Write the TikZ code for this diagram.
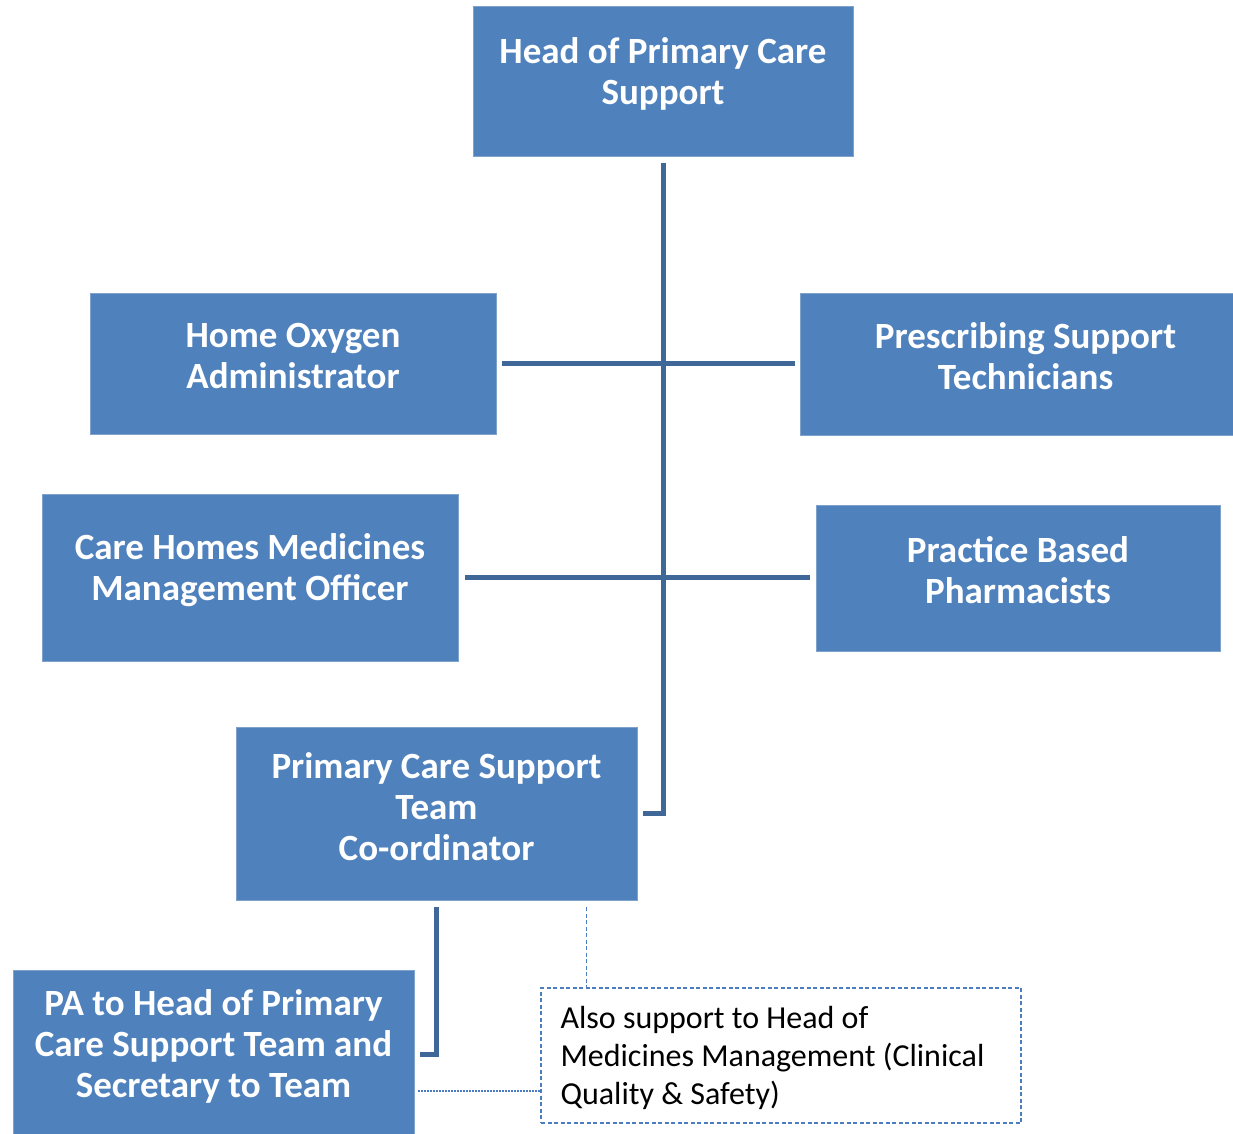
\documentclass[tikz,border=0pt]{standalone}
\usepackage{fontspec}
\setmainfont{Carlito}
\usetikzlibrary{calc}
\definecolor{boxblue}{HTML}{4F81BD}
\definecolor{boxedge}{HTML}{7FA2CD}
\definecolor{linkblue}{HTML}{3F6797}
\definecolor{noteblue}{HTML}{4A7EC0}
\begin{document}
\begin{tikzpicture}[x=1pt,y=-1pt,
  box/.style={draw=boxedge,line width=0.8pt,fill=boxblue,inner sep=0pt},
  btxt/.style={text=white,font=\fontsize{37}{41}\selectfont\bfseries,align=center,inner sep=0pt},
  link/.style={draw=linkblue,line width=5pt},
  note/.style={draw=noteblue,dashed,line width=1.3pt,dash pattern=on 4pt off 2.5pt,inner sep=0pt},
]
\useasboundingbox (0,0) rectangle (1233,1134);
% boxes
\node[box,minimum width=380,minimum height=150] (head) at (663,81) {};
\node[btxt] (headt) at ($(head)+(0,-7)$) {Head of Primary Care\\Support};
\node[box,minimum width=406,minimum height=141] (hox) at (293,363.5) {};
\node[btxt] (hoxt) at ($(hox)+(0,-7.5)$) {Home Oxygen\\Administrator};
\node[box,minimum width=433,minimum height=142] (pst) at (1016.5,364) {};
\node[btxt] (pstt) at ($(pst)+(9,-8)$) {Prescribing Support\\Technicians};
\node[box,minimum width=416,minimum height=167] (chm) at (250,577.5) {};
\node[btxt] (chmt) at ($(chm)+(0,-7.5)$) {Care Homes Medicines\\Management Officer};
\node[box,minimum width=404,minimum height=146] (pbp) at (1018,578) {};
\node[btxt] (pbpt) at ($(pbp)+(0,-8)$) {Practice Based\\Pharmacists};
\node[box,minimum width=401,minimum height=173] (pcs) at (436.5,813.5) {};
\node[btxt] (pcst) at ($(pcs)+(0,-7)$) {Primary Care Support\\Team\\Co-ordinator};
\node[box,minimum width=401,minimum height=170] (pa) at (213.5,1055) {};
\node[btxt] (pat) at ($(pa)+(0,-8.5)$) {PA to Head of Primary\\Care Support Team and\\Secretary to Team};
\node[note,minimum width=480,minimum height=135] (nt) at (781,1055.5) {};
\node[text=black,font=\fontsize{32}{38}\selectfont,align=left,anchor=west,inner sep=0pt] (ntt) at ($(nt.west)+(20,2)$) {Also support to Head of\\Medicines Management (Clinical\\Quality \& Safety)};
% connectors
\coordinate (tTop) at ($(head.south)+(0,7)$);
\coordinate (tBot) at (head.south |- pcs.east);
\draw[link] (tTop) -- ($(tBot)+(0,2.5)$);
\draw[link] ($(tBot)+(2.5,0)$) -- ($(pcs.east)+(6,0)$);
\draw[link] ($(hox.east)+(6,0)$) -- ($(pst.west |- hox.east)+(-5,0)$);
\draw[link] ($(chm.east)+(7,0)$) -- ($(pbp.west |- chm.east)+(-6,0)$);
\coordinate (pTop) at ($(pcs.south)+(0,7)$);
\coordinate (pBot) at (pcs.south |- 0,1054);
\draw[link] (pTop) -- ($(pBot)+(0,2.5)$);
\draw[link] ($(pBot)+(2.5,0)$) -- ($(pa.east |- pBot)+(6,0)$);
\coordinate (dTop) at ($(pcs.south)+(150,7)$);
\draw[draw=noteblue,line width=1.3pt,dash pattern=on 4pt off 2.5pt] (dTop) -- (dTop |- nt.north);
\draw[draw=noteblue,line width=1.3pt,dash pattern=on 1.5pt off 1.5pt] ($(pa.east |- 0,1091)+(4,0)$) -- (nt.west |- 0,1091);
\end{tikzpicture}
\end{document}
